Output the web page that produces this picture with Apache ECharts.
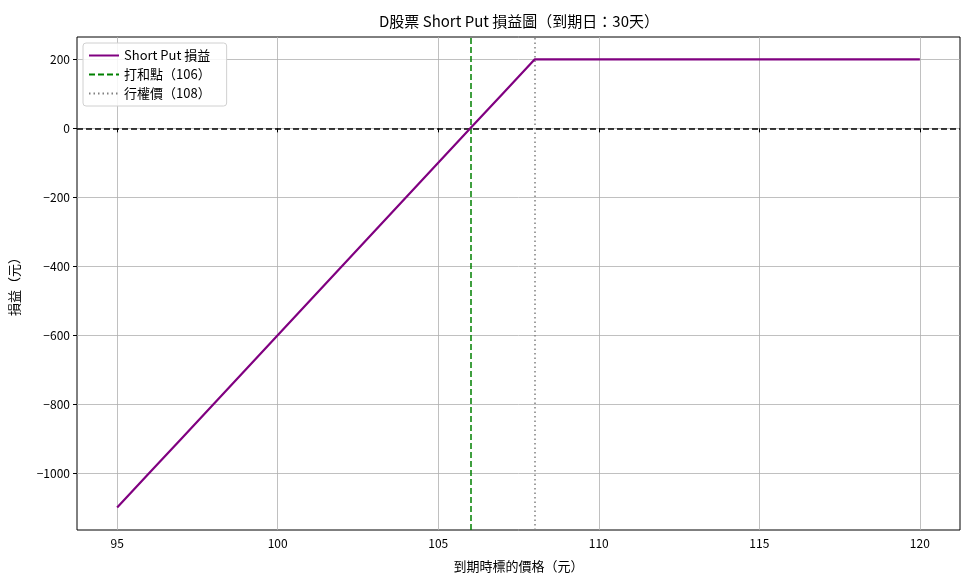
<!DOCTYPE html>
<html><head><meta charset="utf-8">
<script src="https://cdn.jsdelivr.net/npm/echarts@6/dist/echarts.min.js"></script>
<style>html,body{margin:0;padding:0;background:#fff}#c{width:975px;height:585px}</style>
</head><body><div id="c"></div>
<script>
// Data
const prices = [95,96,97,98,99,100,101,102,103,104,105,106,107,108,109,110,111,112,113,114,115,116,117,118,119,120];
const payoff = [-1100,-1000,-900,-800,-700,-600,-500,-400,-300,-200,-100,0,100,200,200,200,200,200,200,200,200,200,200,200,200,200];
const breakeven = 106;
const strike = 108;
const xTicks = [95,100,105,110,115,120];
const yTicks = [-1000,-800,-600,-400,-200,0,200];
const xRange = [93.75, 121.25];
const yRange = [-1165, 265];
const titleText = 'D股票 Short Put 損益圖（到期日：30天）';
const seriesNames = ['Short Put 損益','打和點（106）','行權價（108）'];

const FONT = '"Noto Sans CJK TC","Noto Sans CJK SC",sans-serif';
const chart = echarts.init(document.getElementById('c'));
chart.setOption({
  animation:false,
  textStyle:{fontFamily:FONT},
  title:{text:titleText,left:514,top:9,textAlign:'center',textStyle:{fontSize:15,fontWeight:'normal',color:'#000',fontFamily:FONT}},
  grid:{left:77,right:15,top:37,bottom:55,show:true,borderColor:'#000',borderWidth:1,backgroundColor:'transparent'},
  legend:{
    left:83,top:43,orient:'vertical',itemWidth:30,itemHeight:13,itemGap:6,
    backgroundColor:'rgba(255,255,255,0.85)',borderColor:'#d0d0d0',borderWidth:1,borderRadius:3,padding:[6,16,6,5],
    textStyle:{fontSize:13,color:'#000',fontFamily:FONT},
    itemStyle:{opacity:0},
    data:seriesNames
  },
  xAxis:{type:'value',min:xRange[0],max:xRange[1],
    name:'到期時標的價格（元）',nameLocation:'middle',nameGap:30,nameTextStyle:{fontSize:13,color:'#000'},
    axisLine:{show:false},
    axisTick:{show:true,length:4,lineStyle:{color:'#000'},customValues:xTicks},
    axisLabel:{color:'#000',fontSize:12,customValues:xTicks,margin:7},
    splitLine:{show:true,lineStyle:{color:'#b0b0b0',width:0.8}}
  },
  yAxis:{type:'value',min:yRange[0],max:yRange[1],
    name:'損益（元）',nameLocation:'middle',nameGap:56,nameRotate:90,nameTextStyle:{fontSize:13,color:'#000'},
    axisLine:{show:false},
    axisTick:{show:true,length:4,lineStyle:{color:'#000'},customValues:yTicks},
    axisLabel:{color:'#000',fontSize:12,customValues:yTicks,margin:7,formatter:v=>String(v).replace('-','−')},
    splitLine:{show:true,lineStyle:{color:'#b0b0b0',width:0.8}}
  },
  series:[
    {name:seriesNames[0],type:'line',data:prices.map((p,i)=>[p,payoff[i]]),showSymbol:false,symbol:'none',
     lineStyle:{color:'#800080',width:2.2},itemStyle:{color:'#800080'},z:5,
     markLine:{silent:true,symbol:'none',label:{show:false},lineStyle:{color:'#000',type:[6,3],width:1.5},data:[{yAxis:0}]}},
    {name:seriesNames[1],type:'line',data:[],symbol:'none',lineStyle:{color:'#008000',type:[6,3],width:1.5},itemStyle:{color:'#008000'},
     markLine:{silent:true,symbol:'none',label:{show:false},lineStyle:{color:'#008000',type:[6,3],width:1.5},data:[{xAxis:breakeven}]}},
    {name:seriesNames[2],type:'line',data:[],symbol:'none',lineStyle:{color:'#808080',type:[1.5,3],width:1.5},itemStyle:{color:'#808080'},
     markLine:{silent:true,symbol:'none',label:{show:false},lineStyle:{color:'#808080',type:[1.5,3],width:1.5},data:[{xAxis:strike}]}}
  ]
});
</script></body></html>
